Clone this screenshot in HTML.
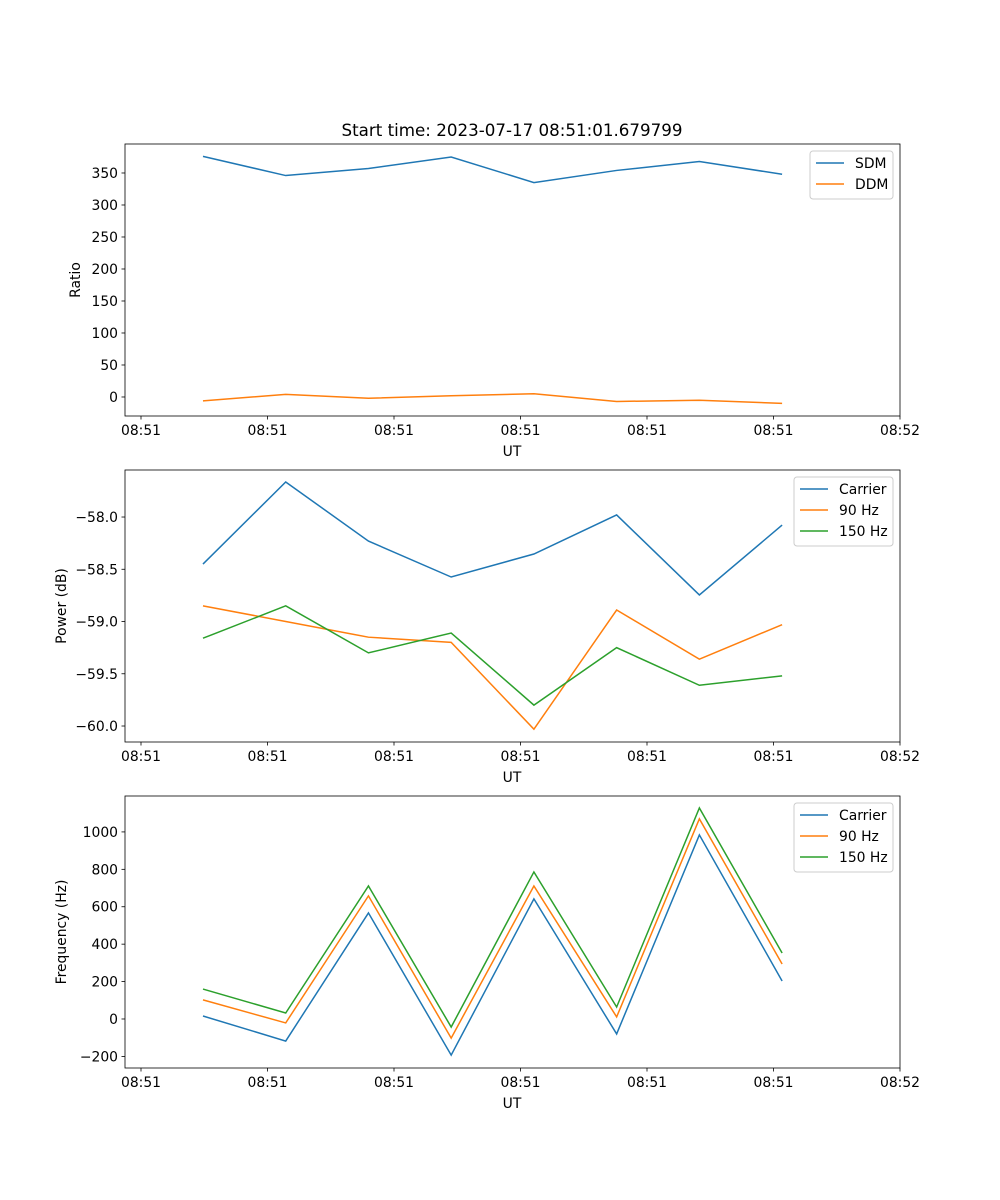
<!DOCTYPE html>
<html><head><meta charset="utf-8"><style>
body{margin:0;background:#fff;}
svg{display:block;font-family:"DejaVu Sans","Liberation Sans",sans-serif;}
</style></head><body>
<svg id="chart" width="1000" height="1200" xmlns="http://www.w3.org/2000/svg">
<text x="512" y="136" font-size="16.7" text-anchor="middle">Start time: 2023-07-17 08:51:01.679799</text>
</svg>
<script>
const times = [4.9, 11.44, 17.98, 24.52, 31.06, 37.6, 44.14, 50.68];
const xTickVals = [0, 10, 20, 30, 40, 50, 60];
const xTickLabels = ["08:51","08:51","08:51","08:51","08:51","08:51","08:52"];
const sdm = [376, 346, 357, 375, 335, 354, 368, 348];
const ddm = [-6, 4, -2, 2, 5, -7, -5, -10];
const pCarrier = [-58.45, -57.665, -58.23, -58.574, -58.354, -57.98, -58.746, -58.077];
const p90 = [-58.85, -59.0, -59.15, -59.2, -60.03, -58.89, -59.36, -59.03];
const p150 = [-59.16, -58.85, -59.3, -59.11, -59.8, -59.25, -59.61, -59.52];
const fCarrier = [16, -118, 567, -193, 642, -80, 984, 203];
const f90 = [102, -21, 658, -102, 711, 11, 1070, 294];
const f150 = [160, 32, 711, -43, 786, 64, 1128, 353];
const ticks1 = [0, 50, 100, 150, 200, 250, 300, 350];
const ticks2 = [-60.0, -59.5, -59.0, -58.5, -58.0];
const ticks3 = [-200, 0, 200, 400, 600, 800, 1000];

const svg = document.getElementById('chart');
const NS = 'http://www.w3.org/2000/svg';
function mk(tag, attrs, parent){const e=document.createElementNS(NS,tag);for(const k in attrs)e.setAttribute(k,attrs[k]);(parent||svg).appendChild(e);return e;}
const L=125,R=900;
const FS=13.9;
function xs(t){return 141+(t)*12.65;}
const colors=['#1f77b4','#ff7f0e','#2ca02c'];

function panel(name, top, bottom, yMin, yMax, yticks, fmt, ylabel, series, names, legendW){
  const g=mk('g',{});
  
  
  const ys=v=>bottom-(v-yMin)/(yMax-yMin)*(bottom-top);
  series.forEach((s,si)=>{
    const p=mk('polyline',{points:s.map((v,i)=>xs(times[i])+','+ys(v)).join(' '),fill:'none',stroke:colors[si],'stroke-width':1.5},g);
    
    
  });
  mk('rect',{x:L,y:top,width:R-L,height:bottom-top,fill:'none',stroke:'#000','stroke-width':0.8},g);
  xTickVals.forEach((t,i)=>{
    const x=xs(t);
    mk('line',{x1:x,x2:x,y1:bottom,y2:bottom+3.5,stroke:'#000','stroke-width':0.8},g);
    const tx=mk('text',{x:x,y:bottom+19,'font-size':FS,'text-anchor':'middle'},g);
    tx.textContent=xTickLabels[i];
    
    
  });
  yticks.forEach(v=>{
    const y=ys(v);
    mk('line',{x1:L-3.5,x2:L,y1:y,y2:y,stroke:'#000','stroke-width':0.8},g);
    const tx=mk('text',{x:L-7,y:y+5,'font-size':FS,'text-anchor':'end'},g);
    tx.textContent=fmt(v);
    
    
  });
  const xl=mk('text',{x:512,y:bottom+40,'font-size':FS,'text-anchor':'middle'},g);
  xl.textContent='UT';
  
  
  const cy=(top+bottom)/2;
  const ylx = name==='ratio'?80:66;
  const yl=mk('text',{x:ylx,y:cy,'font-size':FS,'text-anchor':'middle',transform:'rotate(-90 '+ylx+' '+cy+')'},g);
  yl.textContent=ylabel;
  
  
  const lg=mk('g',{},g);
  
  
  const lx=R-7-legendW, ly=top+7;
  mk('rect',{x:lx,y:ly,width:legendW,height:names.length*21+6,rx:3,fill:'#fff',stroke:'#ccc','stroke-width':1},lg);
  names.forEach((n,i)=>{
    const yy=ly+12+i*21;
    mk('line',{x1:lx+6,x2:lx+34,y1:yy,y2:yy,stroke:colors[i],'stroke-width':1.5},lg);
    const t=mk('text',{x:lx+45,y:yy+5,'font-size':FS},lg);
    t.textContent=n;
    
    
  });
}
panel('ratio',144,416,-29.7,395.3,ticks1,v=>String(v),'Ratio',[sdm,ddm],['SDM','DDM'],83);
panel('power',470,742,-60.153,-57.55,ticks2,v=>'\u2212'+Math.abs(v).toFixed(1),'Power (dB)',[pCarrier,p90,p150],['Carrier','90 Hz','150 Hz'],99);
panel('frequency',796,1068,-262,1192,ticks3,v=>v<0?'\u2212'+Math.abs(v):String(v),'Frequency (Hz)',[fCarrier,f90,f150],['Carrier','90 Hz','150 Hz'],99);
</script>
</body></html>
